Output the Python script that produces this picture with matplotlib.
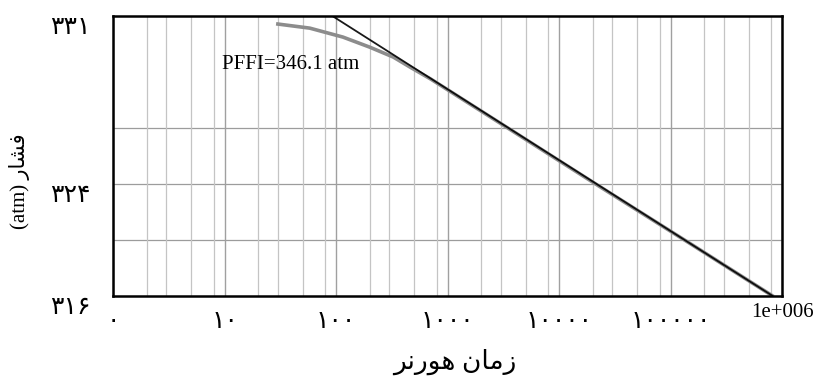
import matplotlib
matplotlib.use("Agg")
import matplotlib.pyplot as plt
from matplotlib.ticker import FixedLocator, FixedFormatter, LogLocator, NullFormatter
from matplotlib.transforms import ScaledTranslation

plt.rcParams['font.family'] = ['Liberation Serif', 'DejaVu Sans']

# horner plot: straight semilog line and the measured build-up curve
line_x = [92, 8.1e5]
line_y = [331.0, 316.0]

curve_x = [30, 58, 115, 200, 325, 460, 700, 990, 4500, 23000, 150000, 810000]
curve_y = [330.56, 330.34, 329.86, 329.32, 328.79, 328.25, 327.62, 327.05, 324.55, 321.85, 318.78, 316.0]

xtick_vals = [1, 10, 100, 1000, 1e4, 1e5, 1e6]
xtick_text = ["۰", "۱۰", "۱۰۰", "۱۰۰۰", "۱۰۰۰۰", "۱۰۰۰۰۰", "1e+006"]

ygrid_vals = [319, 322, 325]
ytick_vals = [316, 322, 331]
ytick_text = ["۳۱۶", "۳۲۴", "۳۳۱"]

pffi_label = "PFFI=346.1 atm"
# arabic presentation forms in visual order (matplotlib does no shaping)
xlabel = "\uFEAE\uFEE7\uFEAD\uFEEE\uFEEB \uFEE5\uFE8E\uFEE3\uFEAF"   # زمان هورنر
ylabel = "(atm) \uFEAD\uFE8E\uFEB8\uFED3"                           # فشار (atm)

fig = plt.figure(figsize=(8.14, 3.77), dpi=100)
ax = fig.add_axes([0.139, 0.216, 0.822, 0.742])

ax.set_xscale('log')
ax.set_xlim(1, 1e6)
ax.set_ylim(316, 331)

# grid
ax.xaxis.set_minor_locator(LogLocator(base=10, subs=(2, 3, 5, 8)))
ax.xaxis.set_minor_formatter(NullFormatter())
ax.grid(True, which='minor', axis='x', color='#c4c4c4', lw=0.9)
ax.grid(True, which='major', axis='x', color='#a0a0a0', lw=1.0)
for g in ygrid_vals:
    ax.axhline(g, color='#9c9c9c', lw=0.9, zorder=1)

ax.plot(curve_x, curve_y, color='#8c8c8c', lw=2.6, zorder=3)
ax.plot(line_x, line_y, color='black', lw=1.3, alpha=0.9, zorder=4)

ax.text(9.5, 328.15, pffi_label, fontsize=15, ha='left', va='baseline', zorder=5)

ax.xaxis.set_major_locator(FixedLocator(xtick_vals))
ax.xaxis.set_major_formatter(FixedFormatter(xtick_text))
ax.yaxis.set_major_locator(FixedLocator(ytick_vals))
ax.yaxis.set_major_formatter(FixedFormatter(ytick_text))
ax.tick_params(axis='x', which='both', length=0, pad=11, labelsize=18)
ax.tick_params(axis='y', which='both', length=0, pad=16, labelsize=18)

off = ScaledTranslation(0, -7 / 72, fig.dpi_scale_trans)
for lab in ax.get_yticklabels():
    lab.set_transform(lab.get_transform() + off)
for lab in ax.get_xticklabels()[-1:]:
    lab.set_fontsize(15)
    lab.set_transform(lab.get_transform() + ScaledTranslation(0, 6 / 72, fig.dpi_scale_trans))

for sp in ax.spines.values():
    sp.set_linewidth(1.8)
    sp.set_zorder(6)

ax.set_xlabel(xlabel, fontsize=19)
ax.xaxis.set_label_coords(0.51, -0.19)
ax.set_ylabel(ylabel, fontsize=15)
ax.yaxis.set_label_coords(-0.125, 0.41)

fig.savefig("out.png", dpi=100)
